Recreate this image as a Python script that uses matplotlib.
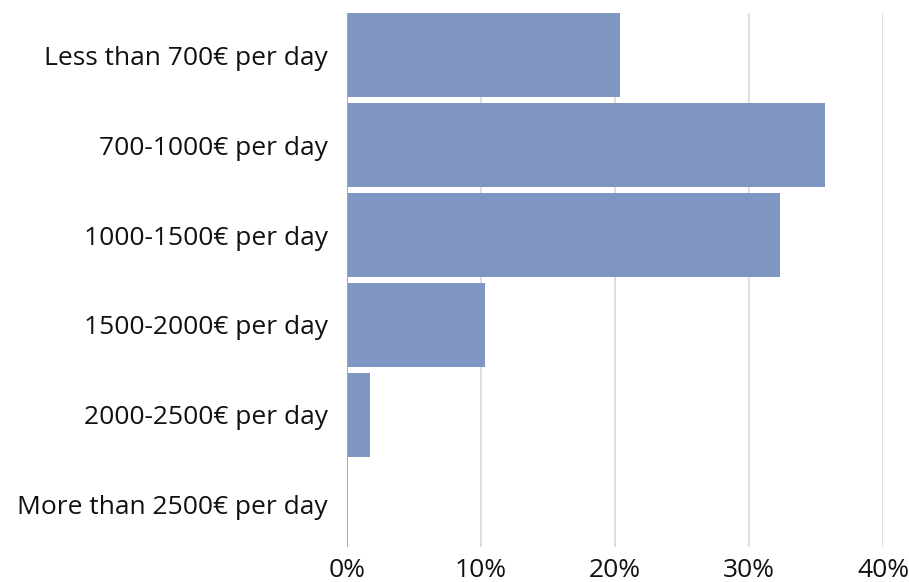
import matplotlib
matplotlib.use("Agg")
import matplotlib.pyplot as plt
from matplotlib.ticker import FuncFormatter

# Share of respondents by daily rate band
categories = ['Less than 700€ per day', '700-1000€ per day', '1000-1500€ per day',
              '1500-2000€ per day', '2000-2500€ per day', 'More than 2500€ per day']
shares = [20.4, 35.7, 32.3, 10.3, 1.7, 0.0]

BAR_COLOR = '#7f96c2'

plt.rcParams['font.family'] = ['Open Sans', 'DejaVu Sans']

fig = plt.figure(figsize=(9.09, 5.82), dpi=100)
ax = fig.add_axes([0.3817, 0.0601, 0.5897, 0.9176])

pos = list(range(len(categories)))
ax.barh(pos, shares, height=0.933, color=BAR_COLOR, zorder=2)

ax.set_ylim(len(categories) - 1 + 0.467, -0.467)
ax.set_xlim(0, 40)
ax.set_xticks([0, 10, 20, 30, 40])
ax.xaxis.set_major_formatter(FuncFormatter(lambda v, _: f'{v:.0f}%'))
ax.set_yticks(pos)
ax.set_yticklabels(categories)

ax.grid(axis='x', color='#d9d9d9', linewidth=1.2, zorder=0)
ax.axvline(0, color='#a6a6a6', linewidth=1.3, zorder=3)
for s in ax.spines.values():
    s.set_visible(False)
ax.tick_params(axis='both', length=0, labelsize=19, colors='#111111')
ax.tick_params(axis='y', pad=14)
ax.tick_params(axis='x', pad=8)

fig.savefig('out.png', dpi=100)
